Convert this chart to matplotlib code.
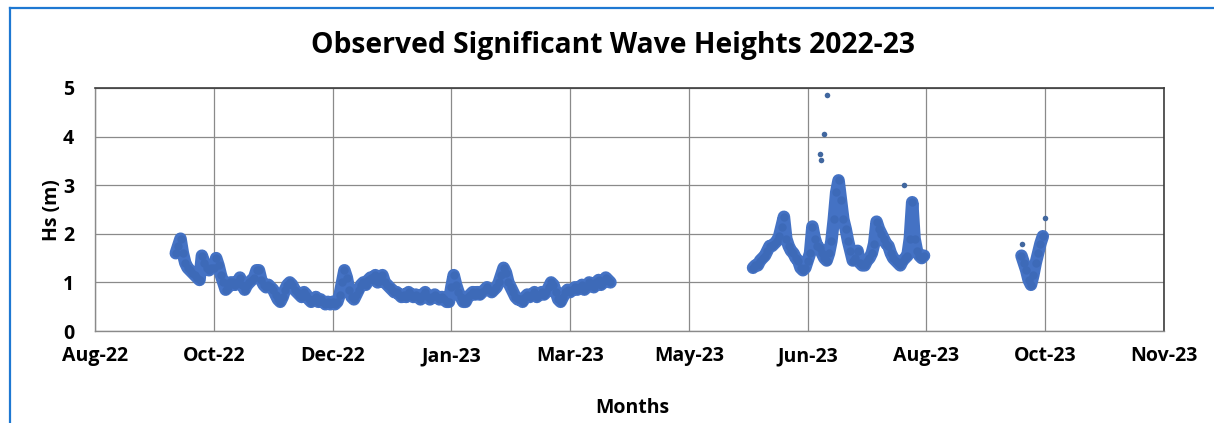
import matplotlib
matplotlib.use("Agg")
import matplotlib.pyplot as plt
import matplotlib.dates as mdates
from matplotlib.lines import Line2D
import pandas as pd

plt.rcParams['font.family'] = ['Open Sans', 'DejaVu Sans']

# Daily significant wave heights (m), one value per day from each start date
seg1_start = "2022-09-30"
seg1_hs = [
    1.60, 1.75, 1.90, 1.60, 1.40, 1.30, 1.25, 1.20, 1.15, 1.10,
    1.05, 1.55, 1.40, 1.30, 1.25, 1.30, 1.30, 1.50, 1.35, 1.15,
    1.00, 0.85, 0.90, 1.00, 1.00, 0.95, 1.00, 1.10, 0.95, 0.85,
    0.95, 1.00, 1.05, 1.10, 1.25, 1.25, 1.05, 0.95, 0.90, 0.95,
    0.90, 0.85, 0.75, 0.65, 0.60, 0.70, 0.85, 0.95, 1.00, 0.95,
    0.85, 0.80, 0.75, 0.70, 0.80, 0.75, 0.65, 0.60, 0.65, 0.70,
    0.60, 0.65, 0.60, 0.55, 0.60, 0.55, 0.60, 0.55, 0.60, 0.75,
    1.00, 1.25, 1.10, 0.85, 0.70, 0.65, 0.75, 0.85, 0.95, 1.00,
    0.95, 1.05, 1.10, 1.05, 1.15, 1.00, 1.05, 1.15, 1.00, 0.95,
    0.90, 0.85, 0.80, 0.80, 0.75, 0.70, 0.75, 0.70, 0.80, 0.75,
    0.70, 0.75, 0.70, 0.65, 0.75, 0.80, 0.70, 0.65, 0.70, 0.75,
    0.70, 0.65, 0.70, 0.65, 0.60, 0.60, 0.90, 1.15, 0.95, 0.80,
    0.70, 0.60, 0.60, 0.70, 0.75, 0.80, 0.75, 0.80, 0.75, 0.80,
    0.85, 0.90, 0.85, 0.80, 0.85, 0.90, 1.00, 1.15, 1.30, 1.20,
    1.00, 0.90, 0.80, 0.70, 0.65, 0.65, 0.60, 0.70, 0.75, 0.70,
    0.75, 0.80, 0.70, 0.75, 0.80, 0.75, 0.80, 0.90, 1.00, 0.95,
    0.80, 0.65, 0.60, 0.70, 0.80, 0.85, 0.80, 0.85, 0.90, 0.85,
    0.90, 0.95, 0.85, 0.90, 1.00, 0.95, 0.90, 1.00, 1.05, 0.95,
    1.00, 1.10, 1.05, 1.00,
]

seg2_start = "2023-05-31"
seg2_hs = [
    1.30, 1.35, 1.35, 1.45, 1.50, 1.55, 1.65, 1.75, 1.75, 1.80,
    1.85, 1.95, 2.15, 2.35, 1.90, 1.75, 1.65, 1.60, 1.50, 1.45,
    1.30, 1.25, 1.30, 1.45, 1.60, 2.15, 1.90, 1.75, 1.70, 1.60,
    1.50, 1.45, 1.60, 1.85, 2.30, 2.85, 3.10, 2.70, 2.30, 2.10,
    1.85, 1.65, 1.45, 1.50, 1.65, 1.40, 1.35, 1.35, 1.45, 1.50,
    1.60, 1.80, 2.25, 2.10, 2.00, 1.90, 1.80, 1.75, 1.60, 1.50,
    1.45, 1.40, 1.35, 1.45, 1.50, 1.55, 1.90, 2.65, 1.90, 1.65,
    1.55, 1.50, 1.55,
]

seg3_start = "2023-09-21"
seg3_hs = [1.55, 1.40, 1.25, 1.05, 0.95, 1.15, 1.40, 1.60, 1.80, 1.95]

# Isolated high readings standing above the main band
peak_times = ["2023-06-28 05:00", "2023-06-28 12:00", "2023-06-29 21:00",
              "2023-07-01 03:00", "2023-08-02 17:00", "2023-09-30 18:00",
              "2023-09-21 06:00"]
peak_hs = [3.64, 3.52, 4.05, 4.86, 3.00, 2.32, 1.80]

tick_start = "2022-08-27"
tick_end = "2023-11-20"
y_ticks = [0, 1, 2, 3, 4, 5]

title = "Observed Significant Wave Heights 2022-23"
x_title = "Months"
y_title = "Hs (m)"

blue = "#4472C4"

fig = plt.figure(figsize=(12.14, 4.23), dpi=100)
fig.patch.set_facecolor("white")
ax = fig.add_axes([95 / 1214, 1 - 331 / 423, (1164 - 95) / 1214, (331 - 88) / 423])

for start, vals in ((seg1_start, seg1_hs), (seg2_start, seg2_hs), (seg3_start, seg3_hs)):
    t = pd.date_range(start, periods=len(vals), freq="D")
    ax.plot(t, vals, color=blue, lw=9, solid_joinstyle="round",
            solid_capstyle="round", zorder=3)
    ax.plot(t, vals, ls="none", marker="o", ms=5, color="#3D6AB8", zorder=4)

ax.scatter(pd.to_datetime(peak_times), peak_hs, s=16, color="#41679F",
           zorder=5, linewidths=0)

ticks = pd.date_range(tick_start, tick_end, freq="50D")
ax.set_xlim(pd.Timestamp(tick_start), pd.Timestamp(tick_end))
ax.set_xticks(ticks)
ax.xaxis.set_major_formatter(mdates.DateFormatter("%b-%y"))
ax.set_ylim(0, 5)
ax.set_yticks(y_ticks)

ax.grid(True, color="#8a8a8a", lw=0.9)
ax.set_axisbelow(True)
ax.tick_params(length=0, labelsize=14)
ax.tick_params(axis="x", pad=11)
ax.tick_params(axis="y", pad=15)
for lab in ax.get_xticklabels() + ax.get_yticklabels():
    lab.set_fontweight("bold")

for side in ("left", "bottom"):
    ax.spines[side].set_color("#8a8a8a")
    ax.spines[side].set_linewidth(1.0)
for side in ("top", "right"):
    ax.spines[side].set_color("#3c3c3c")
    ax.spines[side].set_linewidth(1.2)

fig.text(613 / 1214, 1 - 45 / 423, title, ha="center", va="center",
         fontsize=20.3, fontweight="bold", color="black")
fig.text(632 / 1214, 1 - 408 / 423, x_title, ha="center", va="center",
         fontsize=14, fontweight="bold")
fig.text(52 / 1214, 1 - 210 / 423, y_title, ha="center", va="center",
         rotation=90, fontsize=14, fontweight="bold")

# Blue chart frame on the left and top edges
fig.add_artist(Line2D([9.5 / 1214, 9.5 / 1214], [0, 1 - 8.5 / 423],
                      transform=fig.transFigure, color="#1E78D2", lw=1.6))
fig.add_artist(Line2D([9.5 / 1214, 1], [1 - 8.5 / 423, 1 - 8.5 / 423],
                      transform=fig.transFigure, color="#1E78D2", lw=1.6))

fig.savefig("out.png", dpi=100)
